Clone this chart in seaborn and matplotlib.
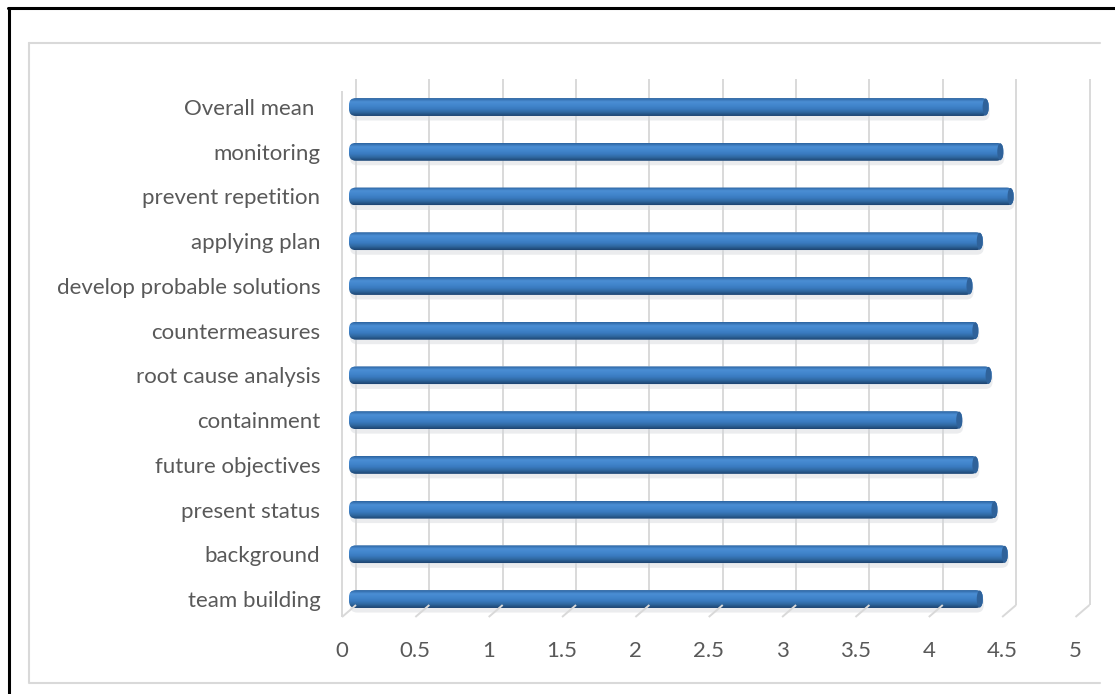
"""
Horizontal 3D-style cylinder bar chart of mean scores
Outputs: out.png
"""

import numpy as np
import matplotlib.pyplot as plt
import matplotlib.transforms as mtransforms
from matplotlib.patches import FancyBboxPatch, Ellipse
from matplotlib.lines import Line2D
from matplotlib.colors import LinearSegmentedColormap
import seaborn as sns

categories = ["Overall mean ", "monitoring", "prevent repetition", "applying plan",
              "develop probable solutions", "countermeasures", "root cause analysis",
              "containment", "future objectives", "present status", "background",
              "team building"]
scores = [4.36, 4.46, 4.53, 4.32, 4.25, 4.29, 4.38, 4.18, 4.29, 4.42, 4.49, 4.32]
x_ticks = [0, 0.5, 1, 1.5, 2, 2.5, 3, 3.5, 4, 4.5, 5]
x_tick_labels = ["0", "0.5", "1", "1.5", "2", "2.5", "3", "3.5", "4", "4.5", "5"]

W, H = 1115, 694
sns.set_style("white")
plt.rcParams["font.family"] = ["Lato", "DejaVu Sans"]

fig = plt.figure(figsize=(W / 100, H / 100), dpi=100)
# axes = front plane of the 3D box (pixels)
left_px, right_px, top_px, bot_px = 342, 1075.5, 91, 617
ax = fig.add_axes([left_px / W, 1 - bot_px / H,
                   (right_px - left_px) / W, (bot_px - top_px) / H])
ax.patch.set_alpha(0)

sns.barplot(x=scores, y=categories, orient="h", width=0.4,
            color="#3B7EC4", ax=ax, saturation=1)

YLIM = (11.402, -0.358)
ax.set_xlim(0, 5)
ax.set_ylim(*YLIM)
for s in ax.spines.values():
    s.set_visible(False)
ax.set_xticks(x_ticks)
ax.set_xticklabels(x_tick_labels)
ax.tick_params(axis="x", length=0, pad=17.5, labelsize=16, colors="#595959")
ax.tick_params(axis="y", length=0, pad=15.5, labelsize=16, colors="#595959")
ax.set_xlabel("")
ax.set_ylabel("")

px = lambda dx, dy: mtransforms.ScaledTranslation(dx / 100, dy / 100, fig.dpi_scale_trans)
bar_off = px(7, 0)
back_off = px(14, 12)

# 3D walls: back-plane verticals, bottom diagonals, front edge of left wall
grid_kw = dict(color="#D9D9D9", lw=1.4, zorder=0.5, solid_capstyle="butt", clip_on=False)
blend = mtransforms.blended_transform_factory(ax.transData, ax.transAxes)
for xt in x_ticks:
    ax.add_line(Line2D([xt, xt], [0, 1], transform=blend + back_off, **grid_kw))
    a = (blend + back_off).transform((xt, 0))
    b = blend.transform((xt, 0))
    fig.add_artist(Line2D([a[0] / W, b[0] / W], [a[1] / H, b[1] / H],
                          transform=fig.transFigure, **grid_kw))
ax.add_line(Line2D([0, 0], [0, 1], transform=blend, **grid_kw))

# cylinder look for the bars
cmap = LinearSegmentedColormap.from_list(
    "cyl", ["#2C64A0", "#4B8ED4", "#4286CD", "#3A7BC0", "#2F679F", "#1D4470"])
grad = np.linspace(0, 1, 64).reshape(-1, 1)
x_scale = (right_px - left_px) / 5.0
y_scale = (bot_px - top_px) / (YLIM[0] - YLIM[1])
for patch in ax.patches:
    x0, y0 = patch.get_x(), patch.get_y()
    w, h = patch.get_width(), patch.get_height()
    r = 7 / x_scale
    clip = FancyBboxPatch((x0, y0), w, h,
                          boxstyle=f"round,pad=0,rounding_size={r}",
                          mutation_aspect=x_scale / y_scale,
                          transform=ax.transData + bar_off,
                          facecolor="none", edgecolor="none")
    ax.add_patch(clip)
    patch.set_transform(ax.transData + bar_off)
    patch.set_clip_path(clip)
    # soft shadow under bar
    ax.add_patch(FancyBboxPatch((x0, y0 + h * 0.2), w, h,
                                boxstyle=f"round,pad=0,rounding_size={r}",
                                mutation_aspect=x_scale / y_scale,
                                transform=ax.transData + px(8, -1),
                                facecolor="#D3D6DA", edgecolor="none",
                                alpha=0.45, zorder=1))
    im = ax.imshow(grad, cmap=cmap, aspect="auto", extent=(x0, x0 + w, y0 + h, y0),
                   transform=ax.transData + bar_off, zorder=2.5,
                   interpolation="bilinear")
    im.set_clip_path(clip)
    cap = Ellipse((x0 + w - 3 / x_scale, y0 + h / 2), 6 / x_scale, h * 0.95,
                  transform=ax.transData + bar_off, facecolor="#2F629A",
                  edgecolor="none", zorder=2.6)
    ax.add_patch(cap)

ax.set_xlim(0, 5)
ax.set_ylim(*YLIM)

# frames: black outer border (top/left) and grey chart-area box
fig.add_artist(Line2D([8 / W, 1], [1 - 8 / H, 1 - 8 / H], color="black", lw=2.2,
                      transform=fig.transFigure))
fig.add_artist(Line2D([9 / W, 9 / W], [0, 1 - 8 / H], color="black", lw=2.2,
                      transform=fig.transFigure))
fig.add_artist(Line2D([29 / W, 29 / W, 1100 / W], [1 - 43 / H, 1 - 683 / H, 1 - 683 / H],
                      color="#D9D9D9", lw=1.5, transform=fig.transFigure))
fig.add_artist(Line2D([29 / W, 1100 / W], [1 - 43 / H, 1 - 43 / H],
                      color="#D9D9D9", lw=1.5, transform=fig.transFigure))

plt.savefig("out.png", dpi=100)
plt.close()
